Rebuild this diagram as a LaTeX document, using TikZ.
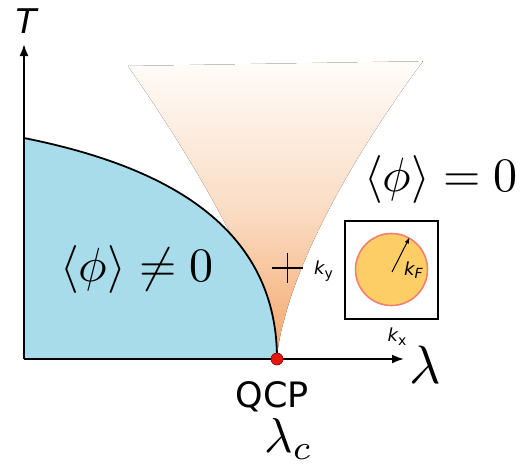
\documentclass[tikz,border=0pt]{standalone}
\usepackage{graphicx}
\usepackage{fontspec}
\newfontfamily\dv{DejaVu Sans}
\usetikzlibrary{arrows.meta}
\definecolor{phaseblue}{RGB}{168,220,234}
\definecolor{funtop}{RGB}{255,252,249}
\definecolor{funmid}{RGB}{250,220,196}
\definecolor{funbot}{RGB}{244,166,104}
\definecolor{fsfill}{RGB}{253,205,102}
\definecolor{fsedge}{RGB}{242,128,110}
\definecolor{qcpred}{RGB}{228,22,16}
\tikzset{
  axis/.style={line width=2pt,-{Latex[length=12pt,width=9pt]}},
  boundary/.style={line width=1.8pt,black},
  biglabel/.style={inner sep=0pt},
  klabel/.style={inner sep=0pt,font=\dv\fontsize{18}{20}\selectfont},
}
\begin{document}
\begin{tikzpicture}[x=1pt,y=-1pt]
\useasboundingbox (0,0) rectangle (524,466);
% funnel (critical fan)
\fill[top color=funtop,bottom color=funbot,middle color=funmid]
  (277,359)
  -- plot[domain=0.01:1,samples=60] ({277+146*(\x)^1.5},{359-298*\x})
  -- (128,66)
  -- plot[domain=1:0.01,samples=60] ({277-149*(\x)^1.37},{359-293*\x})
  -- cycle;
% ordered phase
\coordinate (Tc0) at (24,138);
\coordinate (O) at (24,359);
\fill[phaseblue] (O) -- (Tc0) .. controls (154,164) and (277,220) .. (277,359) -- cycle;
\draw[boundary] (Tc0) .. controls (154,164) and (277,220) .. (277,359);
% axes
\coordinate (Ty) at (24,44);
\coordinate (Lx) at (404,359);
\draw[axis] (O) -- (Ty);
\draw[axis] (O) -- (Lx);
\node[inner sep=0pt,font=\dv\itshape\fontsize{34}{36}\selectfont] (T) at (26,21) {T};
\node[inner sep=0pt,anchor=base west] (lam) at (409,383) {\scalebox{5.4}{$\lambda$}};
% QCP
\node[circle,fill=qcpred,draw=red!50!black,line width=0.6pt,minimum size=12pt,inner sep=0pt] (qcp) at (277,359) {};
\node[inner sep=0pt,font=\dv\fontsize{35}{37}\selectfont] (qcplab) at (272,397) {QCP};
\node[inner sep=0pt,anchor=base west] (lamc) at (264,452) {\scalebox{4.9}{$\lambda_c$}};
% phase labels
\node[biglabel] (ord) at (137,269) {\scalebox{4.8}{$\langle\phi\rangle\neq 0$}};
\node[biglabel] (dis) at (441,179) {\scalebox{4.8}{$\langle\phi\rangle=0$}};
% plus sign
\coordinate (pc) at (287.5,268);
\draw[line width=1.4pt] (272,268) -- (303,268);
\draw[line width=1.4pt] (287.5,253) -- (287.5,283);
% inset Fermi surface
\node[draw,line width=2pt,minimum width=93pt,minimum height=98pt,inner sep=0pt] (box) at (391.5,270) {};
\node[circle,fill=fsfill,draw=fsedge,line width=1.6pt,minimum size=72pt,inner sep=0pt] (fs) at (391.5,269.5) {};
\coordinate (fsc) at (392,272);
\coordinate (fse) at (409.5,237.5);
\draw[line width=1pt,-{Latex[length=6pt,width=4.5pt]}] (fsc) -- (fse);
\node[klabel,anchor=west] (kF) at (404,270) {\itshape k\raisebox{-0.35ex}{\fontsize{14}{16}\selectfont F}};
\node[klabel,anchor=west] (ky) at (314,271) {\itshape k\raisebox{-0.4ex}{\upshape\fontsize{14}{16}\selectfont y}};
\node[klabel] (kx) at (397,337) {\itshape k\raisebox{-0.4ex}{\upshape\fontsize{14}{16}\selectfont x}};
\end{tikzpicture}
\end{document}
